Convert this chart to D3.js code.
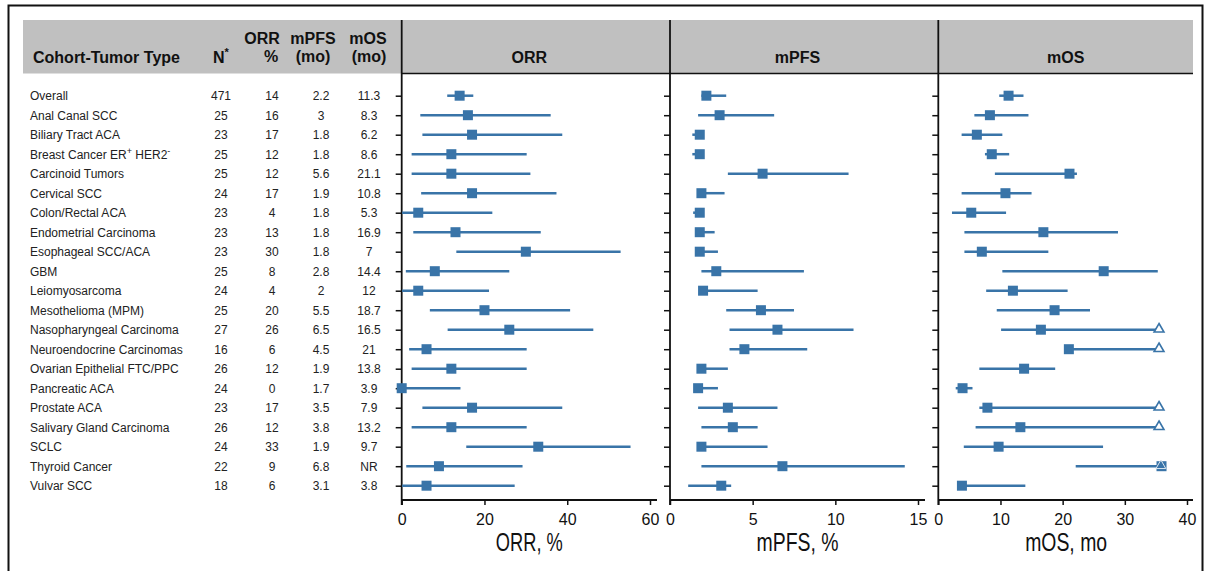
<!DOCTYPE html>
<html>
<head>
<meta charset="utf-8">
<script src="https://cdn.jsdelivr.net/npm/d3@7"></script>
<style>
  body { margin: 0; background: #fff; }
  text { font-family: "Liberation Sans", Arial, sans-serif; }
</style>
</head>
<body>
<script>
// canvas size
var w = 1205;
var h = 571;

// cohorts (top to bottom)
var categories = ["Overall", "Anal Canal SCC", "Biliary Tract ACA", "Breast Cancer ER+ HER2-",
  "Carcinoid Tumors", "Cervical SCC", "Colon/Rectal ACA", "Endometrial Carcinoma",
  "Esophageal SCC/ACA", "GBM", "Leiomyosarcoma", "Mesothelioma (MPM)",
  "Nasopharyngeal Carcinoma", "Neuroendocrine Carcinomas", "Ovarian Epithelial FTC/PPC",
  "Pancreatic ACA", "Prostate ACA", "Salivary Gland Carcinoma", "SCLC", "Thyroid Cancer", "Vulvar SCC"];

// table columns
var tableN    = ["471", "25", "23", "25", "25", "24", "23", "23", "23", "25", "24", "25", "27", "16", "26", "24", "23", "26", "24", "22", "18"];
var tableORR  = ["14", "16", "17", "12", "12", "17", "4", "13", "30", "8", "4", "20", "26", "6", "12", "0", "17", "12", "33", "9", "6"];
var tablePFS  = ["2.2", "3", "1.8", "1.8", "5.6", "1.9", "1.8", "1.8", "1.8", "2.8", "2", "5.5", "6.5", "4.5", "1.9", "1.7", "3.5", "3.8", "1.9", "6.8", "3.1"];
var tableOS   = ["11.3", "8.3", "6.2", "8.6", "21.1", "10.8", "5.3", "16.9", "7", "14.4", "12", "18.7", "16.5", "21", "13.8", "3.9", "7.9", "13.2", "9.7", "NR", "3.8"];

// ORR, % : estimate and CI
var orrPt = [14, 16, 17, 12, 12, 17, 4, 13, 30, 8, 4, 20, 26, 6, 12, 0, 17, 12, 33, 9, 6];
var orrLo = [11, 4.5, 5, 2.4, 2.4, 4.7, 0.1, 2.8, 13.2, 1.0, 0.1, 6.8, 11.1, 1.8, 2.4, 0, 5, 2.4, 15.6, 1.1, 0.1];
var orrHi = [17.3, 36, 38.8, 30.2, 31.1, 37.4, 21.9, 33.6, 52.9, 26, 21.1, 40.7, 46.3, 30.2, 30.2, 14.2, 38.8, 30.2, 55.3, 29.2, 27.3];

// mPFS : estimate and CI
var pfsPt = [2.2, 3, 1.8, 1.8, 5.6, 1.9, 1.8, 1.8, 1.8, 2.8, 2, 5.5, 6.5, 4.5, 1.9, 1.7, 3.5, 3.8, 1.9, 6.8, 3.1];
var pfsLo = [1.9, 1.7, 1.35, 1.35, 3.5, 1.8, 1.4, 1.7, 1.7, 1.9, 1.8, 3.4, 3.6, 3.6, 1.8, 1.5, 1.7, 1.9, 1.8, 1.9, 1.1];
var pfsHi = [3.4, 6.3, 1.9, 1.9, 10.8, 3.3, 1.9, 2.7, 2.9, 8.1, 5.3, 7.5, 11.1, 8.3, 3.5, 2.9, 6.5, 5.3, 5.9, 14.2, 3.7];

// mOS : estimate and CI (NR plotted at the right end)
var osPt = [11.3, 8.3, 6.2, 8.6, 21.1, 10.8, 5.3, 16.9, 7, 26.6, 12, 18.7, 16.5, 21, 13.8, 3.9, 7.9, 13.2, 9.7, 35.9, 3.8];
var osLo = [9.8, 5.8, 3.75, 7.5, 9.1, 3.75, 2.2, 4.2, 4.2, 10.3, 7.7, 9.4, 10.1, 21, 6.6, 2.8, 6.6, 6.0, 4.1, 22.1, 3.8];
var osHi = [13.7, 14.5, 10.3, 11.4, 22.3, 15.0, 10.9, 28.9, 17.7, 35.3, 20.8, 24.4, 35.5, 35.5, 18.8, 5.5, 35.5, 35.5, 26.5, 35.5, 14.0];
// upper limit not reached
var osOpen = [0, 0, 0, 0, 0, 0, 0, 0, 0, 0, 0, 0, 1, 1, 0, 0, 1, 1, 0, 1, 0];

var blue = "#3974a8";

var svg = d3.select("body")
  .append("svg")
  .attr("width", w)
  .attr("height", h);

// outer frame
svg.append("rect")
  .attr("x", 8.5).attr("y", 5.5)
  .attr("width", 1194).attr("height", 620)
  .attr("fill", "none").attr("stroke", "#111").attr("stroke-width", 2);

// grey header band
svg.append("rect")
  .attr("x", 23).attr("y", 20)
  .attr("width", 1170).attr("height", 53.5)
  .attr("fill", "#c0c0c0");
svg.append("line")
  .attr("x1", 401.5).attr("x2", 1193)
  .attr("y1", 73.5).attr("y2", 73.5)
  .attr("stroke", "#111").attr("stroke-width", 1.5);

var y = d3.scalePoint().domain(categories).range([95.7, 485.7]);

// table headers
var hdr = svg.append("g").style("font-weight", "bold").style("font-size", "16px").attr("fill", "#111");
hdr.append("text").attr("x", 33).attr("y", 63).text("Cohort-Tumor Type");
var nh = hdr.append("text").attr("x", 213).attr("y", 63).text("N");
nh.append("tspan").attr("dy", -7).style("font-size", "11px").text("*");
hdr.append("text").attr("x", 262).attr("y", 44).attr("text-anchor", "middle").text("ORR");
hdr.append("text").attr("x", 271).attr("y", 62).attr("text-anchor", "middle").text("%");
hdr.append("text").attr("x", 313).attr("y", 44).attr("text-anchor", "middle").text("mPFS");
hdr.append("text").attr("x", 313).attr("y", 62).attr("text-anchor", "middle").text("(mo)");
hdr.append("text").attr("x", 368).attr("y", 44).attr("text-anchor", "middle").text("mOS");
hdr.append("text").attr("x", 369).attr("y", 62).attr("text-anchor", "middle").text("(mo)");

// table rows
var rows = svg.append("g").style("font-size", "12px").attr("fill", "#222");
categories.forEach(function (c, i) {
  var yy = y(c) + 4.3;
  var t = rows.append("text").attr("x", 30).attr("y", yy);
  if (c === "Breast Cancer ER+ HER2-") {
    t.append("tspan").text("Breast Cancer ER");
    t.append("tspan").attr("dy", -5).style("font-size", "9px").text("+");
    t.append("tspan").attr("dy", 5).text(" HER2");
    t.append("tspan").attr("dy", -5).style("font-size", "9px").text("-");
  } else {
    t.text(c);
  }
  rows.append("text").attr("x", 221).attr("y", yy).attr("text-anchor", "middle").text(tableN[i]);
  rows.append("text").attr("x", 272).attr("y", yy).attr("text-anchor", "middle").text(tableORR[i]);
  rows.append("text").attr("x", 321).attr("y", yy).attr("text-anchor", "middle").text(tablePFS[i]);
  rows.append("text").attr("x", 369).attr("y", yy).attr("text-anchor", "middle").text(tableOS[i]);
});

// the three forest panels
var panels = [
  { title: "ORR", label: "ORR, %", labelW: 67, domain: [0, 60], range: [401.7, 650], end: 657, ticks: [0, 20, 40, 60], pt: orrPt, lo: orrLo, hi: orrHi },
  { title: "mPFS", label: "mPFS, %", labelW: 82, domain: [0, 15], range: [670, 918], end: 925, ticks: [0, 5, 10, 15], pt: pfsPt, lo: pfsLo, hi: pfsHi },
  { title: "mOS", label: "mOS, mo", labelW: 82, domain: [0, 40], range: [938.3, 1187], end: 1193, ticks: [0, 10, 20, 30, 40], pt: osPt, lo: osLo, hi: osHi, open: osOpen }
];

var axisY = 500;

panels.forEach(function (p) {
  var x = d3.scaleLinear().domain(p.domain).range(p.range);
  var g = svg.append("g");

  // panel title in header
  g.append("text")
    .attr("x", (p.range[0] + p.end) / 2).attr("y", 63)
    .attr("text-anchor", "middle")
    .style("font-weight", "bold").style("font-size", "16px")
    .attr("fill", "#111")
    .text(p.title);

  // left divider / y axis line
  g.append("line")
    .attr("x1", p.range[0]).attr("x2", p.range[0])
    .attr("y1", 20).attr("y2", axisY + 5)
    .attr("stroke", "#111").attr("stroke-width", 1.8);

  // y ticks
  var ya = g.append("g")
    .attr("transform", "translate(" + p.range[0] + ",0)")
    .call(d3.axisLeft(y).tickSize(6).tickFormat(""));
  ya.select(".domain").remove();
  ya.selectAll("line").attr("stroke", "#111").attr("stroke-width", 1.5);

  // x axis
  g.append("line")
    .attr("x1", p.range[0]).attr("x2", p.end)
    .attr("y1", axisY).attr("y2", axisY)
    .attr("stroke", "#111").attr("stroke-width", 1.8);
  var xa = g.append("g")
    .attr("transform", "translate(0," + axisY + ")")
    .call(d3.axisBottom(x).tickValues(p.ticks).tickSize(5).tickPadding(9));
  xa.select(".domain").remove();
  xa.selectAll("line").attr("stroke", "#111").attr("stroke-width", 1.5);
  xa.selectAll("text")
    .attr("font-family", "Liberation Sans, Arial, sans-serif")
    .style("font-size", "16px")
    .attr("fill", "#111");

  // axis title (condensed look)
  var cx = (p.range[0] + p.range[1]) / 2 + 3.5;
  g.append("text")
    .attr("x", cx - p.labelW / 2).attr("y", 551)
    .attr("textLength", p.labelW)
    .attr("lengthAdjust", "spacingAndGlyphs")
    .style("font-size", "25px")
    .attr("fill", "#111")
    .text(p.label);

  // CI lines
  g.selectAll(".ci")
    .data(categories)
    .enter().append("line")
    .attr("x1", function (d, i) { return x(p.lo[i]); })
    .attr("x2", function (d, i) { return x(p.hi[i]); })
    .attr("y1", function (d) { return y(d); })
    .attr("y2", function (d) { return y(d); })
    .attr("stroke", blue).attr("stroke-width", 2.5);

  // point estimates
  g.selectAll(".pt")
    .data(categories)
    .enter().append("rect")
    .attr("x", function (d, i) { return x(p.pt[i]) - 5; })
    .attr("y", function (d) { return y(d) - 5; })
    .attr("width", 10).attr("height", 10)
    .attr("fill", blue);

  // open triangles for upper limit not reached
  if (p.open) {
    var tri = d3.symbol().type(d3.symbolTriangle).size(42);
    categories.forEach(function (d, i) {
      if (!p.open[i]) return;
      var inside = p.pt[i] > 35;
      g.append("path")
        .attr("d", tri())
        .attr("transform", "translate(" + x(p.hi[i] + (inside ? 0.3 : 0)) + "," + (y(d) - 0.5) + ")")
        .attr("fill", inside ? blue : "#fff")
        .attr("stroke", inside ? "#dbe6f0" : blue)
        .attr("stroke-width", inside ? 1 : 1.6);
    });
  }
});
</script>
</body>
</html>
